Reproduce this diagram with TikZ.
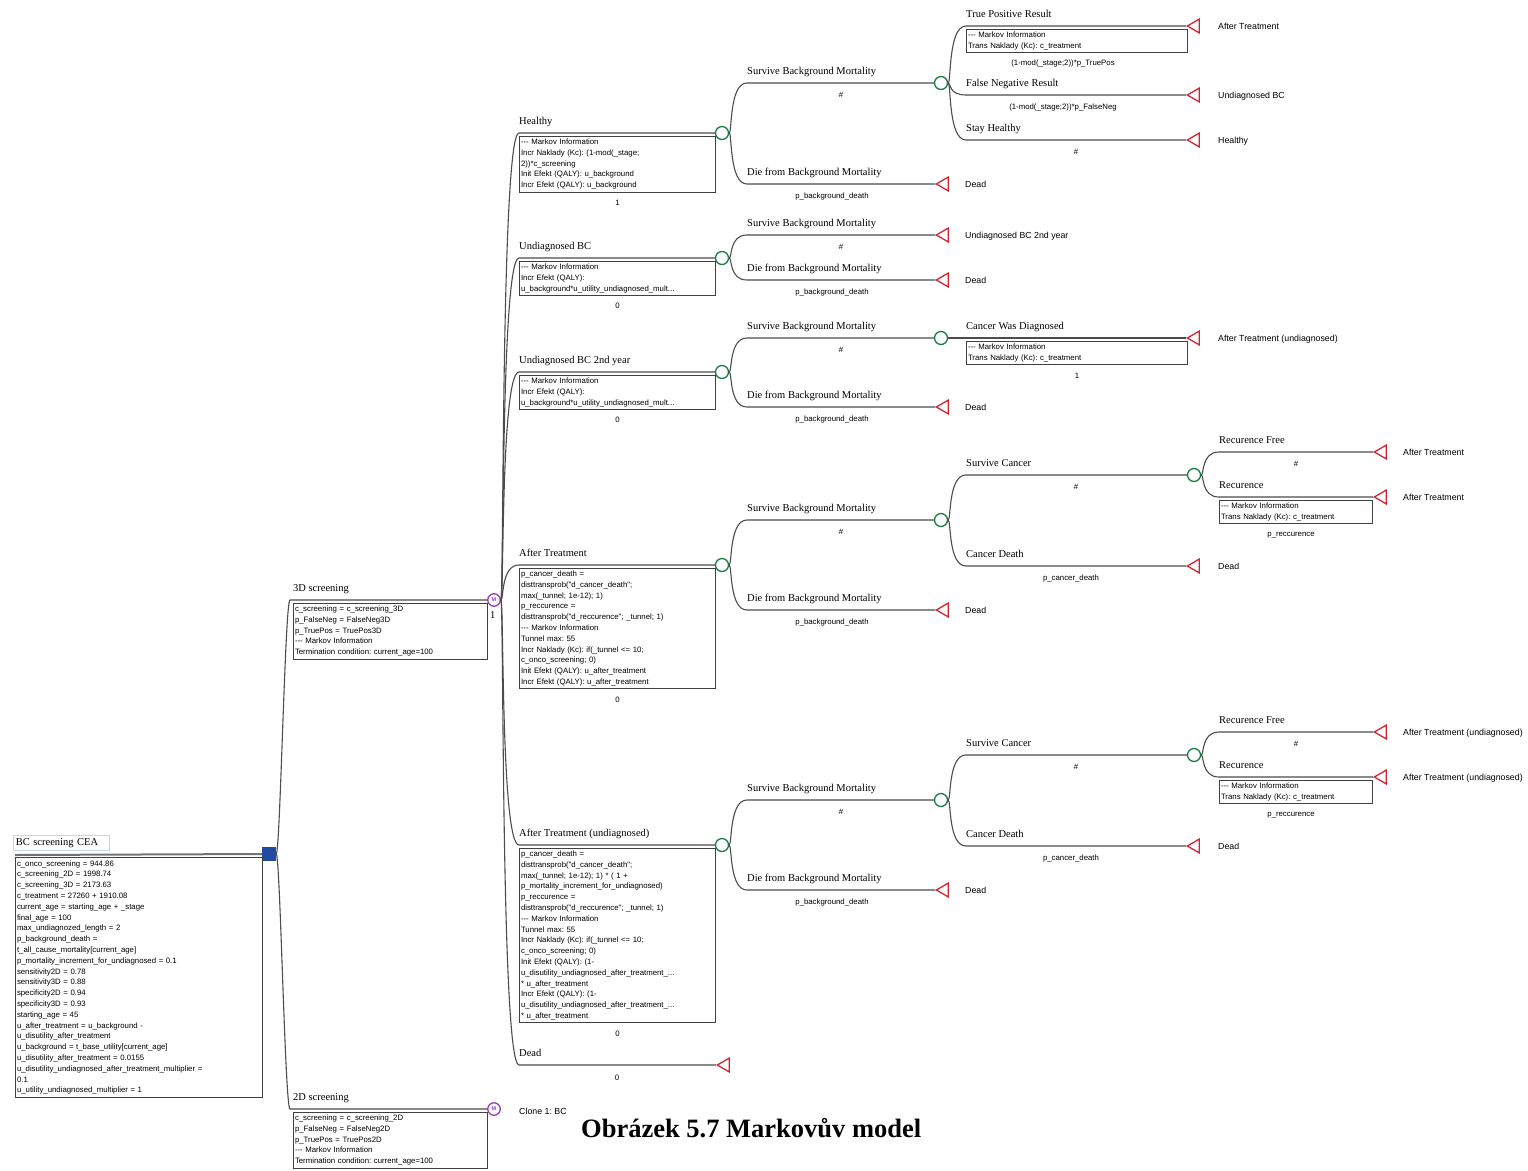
\documentclass[tikz,border=0pt]{standalone}
\usepackage{fontspec}
\setmainfont{Liberation Serif}
\newfontfamily\boxfont{Liberation Sans}
\usetikzlibrary{calc,shapes.geometric}

\definecolor{decblue}{RGB}{33,74,160}
\definecolor{chgreen}{RGB}{25,125,70}
\definecolor{termred}{RGB}{210,35,50}
\definecolor{mpurple}{RGB}{150,60,180}
\definecolor{lblblue}{RGB}{195,215,238}

\tikzset{
  branchline/.style={draw=black!70, line width=1.1pt},
  treeedge/.style={to path={.. controls ($(\tikztostart)+(#1,0)$) and (\tikztostart |- \tikztotarget) .. (\tikztotarget)}},
  treeedge/.default=3,
  rootedge/.style={to path={.. controls ($(\tikztostart)+(4,0)$) and ($(\tikztotarget)+(-5,0)$) .. (\tikztotarget)}},
  lbl/.style={anchor=base west, inner sep=0pt, font=\fontsize{10.5}{12}\selectfont},
  endlbl/.style={anchor=base west, inner sep=0pt, font=\boxfont\frenchspacing\fontsize{8.8}{10}\selectfont},
  prob/.style={anchor=base, inner sep=0pt, font=\boxfont\fontsize{7.8}{9}\selectfont},
  infobox/.style={draw=black!75, line width=1pt, fill=white, anchor=north west,
    align=left, text width=#1, inner xsep=1.5pt, inner ysep=1pt,
    font=\boxfont\frenchspacing\fontsize{7.8}{10.8}\selectfont,
    execute at begin node=\strut, execute at end node=\strut},
  decision/.style={rectangle, fill=decblue, minimum size=14pt, inner sep=0pt},
  markov/.style={circle, draw=mpurple, line width=1.3pt, fill=white, minimum size=12.5pt,
    inner sep=0pt, text=mpurple, font=\boxfont\bfseries\fontsize{5.5}{5.5}\selectfont},
  chance/.style={circle, draw=chgreen, line width=1.3pt, fill=white, minimum size=13pt, inner sep=0pt},
  term/.style={regular polygon, regular polygon sides=3, shape border rotate=90,
    draw=termred, line width=1.3pt, minimum size=16pt, inner sep=0pt, anchor=corner 1},
}

\begin{document}
\begin{tikzpicture}[x=1pt, y=-1pt]
    \useasboundingbox (0,0) rectangle (1528,1170);

    % Columns of the tree
    \def\colB{519}
    \def\colC{747}
    \def\colD{966}
    \def\colE{1219}

    % Root decision and model variables
    \node[draw=lblblue, line width=0.8pt, anchor=north west, text width=91pt, minimum height=15pt,
          inner xsep=2.5pt, inner ysep=0pt, font=\fontsize{10.5}{12}\selectfont] (rootlbl) at (13,835) {BC screening CEA};
    \coordinate (rootstart) at (15,855);
    \node[decision] (dec) at (269,854) {};
    \draw[branchline, line width=2pt, draw=black!55] (rootstart) -- (dec.west);
    \node[infobox=244pt] (rootvars) at (15,857) {c\_onco\_screening = 944.86\\
        c\_screening\_2D = 1998.74\\
        c\_screening\_3D = 2173.63\\
        c\_treatment = 27260 + 1910.08\\
        current\_age = starting\_age + \_stage\\
        final\_age = 100\\
        max\_undiagnozed\_length = 2\\
        p\_background\_death =\\
        t\_all\_cause\_mortality[current\_age]\\
        p\_mortality\_increment\_for\_undiagnosed = 0.1\\
        sensitivity2D = 0.78\\
        sensitivity3D = 0.88\\
        specificity2D = 0.94\\
        specificity3D = 0.93\\
        starting\_age = 45\\
        u\_after\_treatment = u\_background -\\
        u\_disutility\_after\_treatment\\
        u\_background = t\_base\_utility[current\_age]\\
        u\_disutility\_after\_treatment = 0.0155\\
        u\_disutility\_undiagnosed\_after\_treatment\_multiplier =\\
        0.1\\
        u\_utility\_undiagnosed\_multiplier = 1};

    % 3D screening
    \coordinate (b3d) at (290,600);
    \node[lbl] (l3d) at (293,591.5) {3D screening};
    \node[markov] (s3d) at (494,600) {M};
    \node[lbl] (n3d) at (490,618) {1};
    \node[infobox=191pt] (v3d) at (293,602.5) {c\_screening = c\_screening\_3D\\
        p\_FalseNeg = FalseNeg3D\\
        p\_TruePos = TruePos3D\\
        --- Markov Information\\
        Termination condition: current\_age=100};
    \draw[branchline] (dec.east) to[rootedge] (b3d) -- (s3d.west);

    % 2D screening
    \coordinate (b2d) at (290,1109);
    \node[lbl] (l2d) at (293,1100.5) {2D screening};
    \node[markov] (s2d) at (494,1109) {M};
    \node[endlbl] (clone) at (519,1114) {Clone 1: BC};
    \node[infobox=191pt] (v2d) at (293,1111.5) {c\_screening = c\_screening\_2D\\
        p\_FalseNeg = FalseNeg2D\\
        p\_TruePos = TruePos2D\\
        --- Markov Information\\
        Termination condition: current\_age=100};
    \draw[branchline] (dec.east) to[rootedge] (b2d) -- (s2d.west);

    % Markov states
    \coordinate (bH) at (\colB,133);
    \node[lbl] (lH) at (\colB,124.5) {Healthy};
    \node[chance] (cH) at (722,133) {};
    \node[infobox=193pt] (vH) at (\colB,135.5) {--- Markov Information\\
        Incr Naklady (Kc): (1-mod(\_stage;\\
        2))*c\_screening\\
        Init Efekt (QALY): u\_background\\
        Incr Efekt (QALY): u\_background};
    \node[prob, yshift=-13pt] (pH) at (vH.south) {1};

    \coordinate (bU) at (\colB,258);
    \node[lbl] (lU) at (\colB,249.5) {Undiagnosed BC};
    \node[chance] (cU) at (722,258) {};
    \node[infobox=193pt] (vU) at (\colB,260.5) {--- Markov Information\\
        Incr Efekt (QALY):\\
        u\_background*u\_utility\_undiagnosed\_mult...};
    \node[prob, yshift=-13pt] (pU) at (vU.south) {0};

    \coordinate (bU2) at (\colB,372);
    \node[lbl] (lU2) at (\colB,363.5) {Undiagnosed BC 2nd year};
    \node[chance] (cU2) at (722,372) {};
    \node[infobox=193pt] (vU2) at (\colB,374.5) {--- Markov Information\\
        Incr Efekt (QALY):\\
        u\_background*u\_utility\_undiagnosed\_mult...};
    \node[prob, yshift=-13pt] (pU2) at (vU2.south) {0};

    \coordinate (bA) at (\colB,565);
    \node[lbl] (lA) at (\colB,556.5) {After Treatment};
    \node[chance] (cA) at (722,565) {};
    \node[infobox=193pt] (vA) at (\colB,567.5) {p\_cancer\_death =\\
        disttransprob("d\_cancer\_death";\\
        max(\_tunnel; 1e-12); 1)\\
        p\_reccurence =\\
        disttransprob("d\_reccurence"; \_tunnel; 1)\\
        --- Markov Information\\
        Tunnel max: 55\\
        Incr Naklady (Kc): if(\_tunnel <= 10;\\
        c\_onco\_screening; 0)\\
        Init Efekt (QALY): u\_after\_treatment\\
        Incr Efekt (QALY): u\_after\_treatment};
    \node[prob, yshift=-13pt] (pA) at (vA.south) {0};

    \coordinate (bAU) at (\colB,845);
    \node[lbl] (lAU) at (\colB,836.5) {After Treatment (undiagnosed)};
    \node[chance] (cAU) at (722,845) {};
    \node[infobox=193pt] (vAU) at (\colB,847.5) {p\_cancer\_death =\\
        disttransprob("d\_cancer\_death";\\
        max(\_tunnel; 1e-12); 1) * ( 1 +\\
        p\_mortality\_increment\_for\_undiagnosed)\\
        p\_reccurence =\\
        disttransprob("d\_reccurence"; \_tunnel; 1)\\
        --- Markov Information\\
        Tunnel max: 55\\
        Incr Naklady (Kc): if(\_tunnel <= 10;\\
        c\_onco\_screening; 0)\\
        Init Efekt (QALY): (1-\\
        u\_disutility\_undiagnosed\_after\_treatment\_...\\{}* u\_after\_treatment\\
        Incr Efekt (QALY): (1-\\
        u\_disutility\_undiagnosed\_after\_treatment\_...\\{}* u\_after\_treatment};
    \node[prob, yshift=-13pt] (pAU) at (vAU.south) {0};

    \coordinate (bD) at (\colB,1065);
    \node[lbl] (lD) at (\colB,1056.5) {Dead};
    \node[term] (tD) at (716,1065) {};
    \node[prob] (pD) at (617,1080) {0};

    \foreach \s in {H,U,U2,A,AU}
        \draw[branchline] (s3d.east) to[treeedge] (b\s) -- (c\s.west);
    \draw[branchline] (s3d.east) to[treeedge] (bD) -- (tD.corner 1);

    % Background mortality in every state
    \foreach \p/\ys/\yd in {H/83/184, U/235/280, U2/338/407, A/520/610, AU/800/890} {
        \coordinate (bs\p) at (\colC,\ys);
        \node[lbl] (ls\p) at (\colC,\ys-8.5) {Survive Background Mortality};
        \node[prob] (ps\p) at (841,\ys+14.5) {\#};
        \coordinate (bd\p) at (\colC,\yd);
        \node[lbl] (ld\p) at (\colC,\yd-8.5) {Die from Background Mortality};
        \node[term] (td\p) at (935,\yd) {};
        \node[endlbl] (ed\p) at (965,\yd+3.5) {Dead};
        \node[prob] (pd\p) at (832,\yd+14.5) {p\_background\_death};
        \draw[branchline] (c\p.east) to[treeedge] (bd\p) -- (td\p.corner 1);
    }
    \node[chance] (csH) at (941,83) {};
    \node[term] (tsU) at (935,235) {};
    \node[endlbl] (esU) at (965,238.5) {Undiagnosed BC 2nd year};
    \node[chance] (csU2) at (941,338) {};
    \node[chance] (csA) at (941,520) {};
    \node[chance] (csAU) at (941,800) {};
    \draw[branchline] (cU.east) to[treeedge] (bsU) -- (tsU.corner 1);
    \foreach \p in {H,U2,A,AU}
        \draw[branchline] (c\p.east) to[treeedge] (bs\p) -- (cs\p.west);

    % Screening test in Healthy
    \coordinate (bTP) at (\colD,26);
    \node[lbl] (lTP) at (\colD,17.5) {True Positive Result};
    \node[term] (tTP) at (1186,26) {};
    \node[endlbl] (eTP) at (1218,29.5) {After Treatment};
    \node[infobox=218pt] (vTP) at (\colD,28.5) {--- Markov Information\\
        Trans Naklady (Kc): c\_treatment};
    \node[prob] (pTP) at (1063,65) {(1-mod(\_stage;2))*p\_TruePos};

    \coordinate (bFN) at (\colD,95);
    \node[lbl] (lFN) at (\colD,86.5) {False Negative Result};
    \node[term] (tFN) at (1186,95) {};
    \node[endlbl] (eFN) at (1218,98.5) {Undiagnosed BC};
    \node[prob] (pFN) at (1063,109.5) {(1-mod(\_stage;2))*p\_FalseNeg};

    \coordinate (bSH) at (\colD,140);
    \node[lbl] (lSH) at (\colD,131.5) {Stay Healthy};
    \node[term] (tSH) at (1186,140) {};
    \node[endlbl] (eSH) at (1218,143.5) {Healthy};
    \node[prob] (pSH) at (1076,154.5) {\#};

    \foreach \r in {TP,FN,SH}
        \draw[branchline] (csH.east) to[treeedge] (b\r) -- (t\r.corner 1);

    % Diagnosis in the 2nd year
    \coordinate (bCW) at (\colD,338);
    \node[lbl] (lCW) at (\colD,329.5) {Cancer Was Diagnosed};
    \node[term] (tCW) at (1186,338) {};
    \node[endlbl] (eCW) at (1218,341.5) {After Treatment (undiagnosed)};
    \node[infobox=218pt] (vCW) at (\colD,340.5) {--- Markov Information\\
        Trans Naklady (Kc): c\_treatment};
    \node[prob, yshift=-13pt] (pCW) at (vCW.south) {1};
    \draw[branchline] (csU2.east) -- (tCW.corner 1);

    % Cancer and recurrence after treatment
    \foreach \p/\dy/\dest in {A/0/After Treatment, AU/280/After Treatment (undiagnosed)} {
        \coordinate (bsc\p) at (\colD,475+\dy);
        \node[lbl] (lsc\p) at (\colD,466.5+\dy) {Survive Cancer};
        \node[chance] (csc\p) at (1194,475+\dy) {};
        \node[prob] (psc\p) at (1076,489.5+\dy) {\#};

        \coordinate (bxd\p) at (\colD,566+\dy);
        \node[lbl] (lxd\p) at (\colD,557.5+\dy) {Cancer Death};
        \node[term] (txd\p) at (1186,566+\dy) {};
        \node[endlbl] (exd\p) at (1218,569.5+\dy) {Dead};
        \node[prob] (pxd\p) at (1071,580.5+\dy) {p\_cancer\_death};

        \coordinate (brf\p) at (\colE,452+\dy);
        \node[lbl] (lrf\p) at (\colE,443.5+\dy) {Recurence Free};
        \node[term] (trf\p) at (1373,452+\dy) {};
        \node[endlbl] (erf\p) at (1403,455.5+\dy) {\dest};
        \node[prob] (prf\p) at (1296,466.5+\dy) {\#};

        \coordinate (brc\p) at (\colE,497+\dy);
        \node[lbl] (lrc\p) at (\colE,488.5+\dy) {Recurence};
        \node[term] (trc\p) at (1373,497+\dy) {};
        \node[endlbl] (erc\p) at (1403,500.5+\dy) {\dest};
        \node[infobox=150pt] (vrc\p) at (\colE,499.5+\dy) {--- Markov Information\\
            Trans Naklady (Kc): c\_treatment};
        \node[prob] (prc\p) at (1291,536.5+\dy) {p\_reccurence};

        \draw[branchline] (cs\p.east) to[treeedge] (bsc\p) -- (csc\p.west);
        \draw[branchline] (cs\p.east) to[treeedge] (bxd\p) -- (txd\p.corner 1);
        \draw[branchline] (csc\p.east) to[treeedge] (brf\p) -- (trf\p.corner 1);
        \draw[branchline] (csc\p.east) to[treeedge] (brc\p) -- (trc\p.corner 1);
    }

    % Caption
    \node[anchor=base west, inner sep=0pt, font=\bfseries\fontsize{26.5}{30}\selectfont] (title) at (581,1137) {Obrázek 5.7 Markovův model};

\end{tikzpicture}
\end{document}
